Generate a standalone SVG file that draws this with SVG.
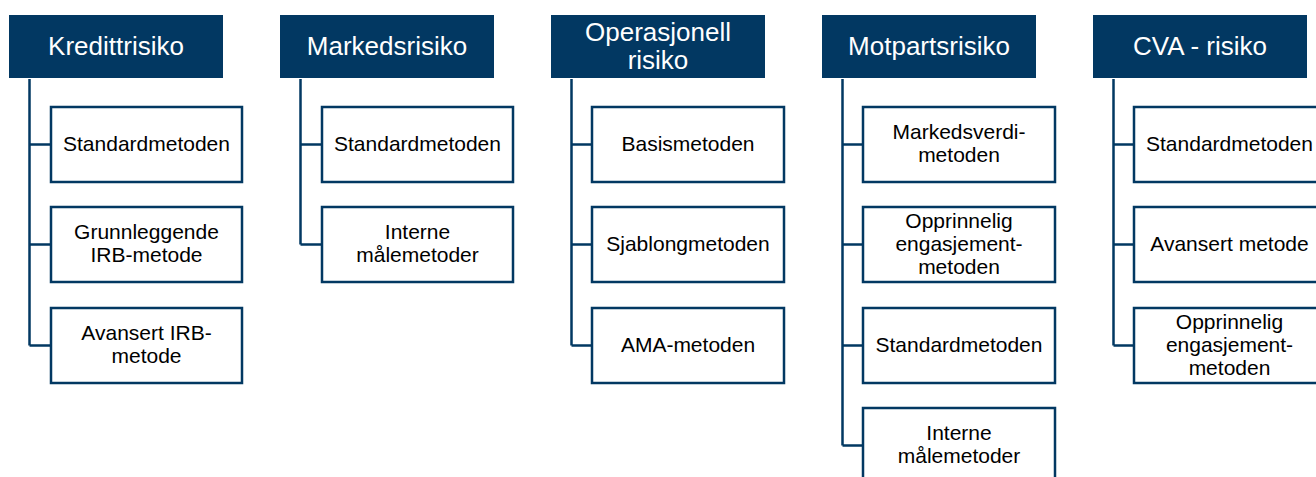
<svg xmlns="http://www.w3.org/2000/svg" width="1316" height="477" viewBox="0 0 1316 477">
<style>
.hd{fill:#023862}
.ht{fill:#ffffff;font-family:"Liberation Sans",Arial,sans-serif;font-size:26px;text-anchor:middle}
.bx{fill:#ffffff;stroke:#023862;stroke-width:2.5}
.bt{fill:#000000;font-family:"Liberation Sans",Arial,sans-serif;font-size:21px;text-anchor:middle}
.cn{fill:none;stroke:#023862;stroke-width:2.5}
</style>
<rect width="1316" height="477" fill="#ffffff"/>
<g id="connectors">
<path class="cn" d="M29.5 79 V345.5 M29.5 144.5 H51 M29.5 244.5 H51 M29.5 345.5 H51"/>
<path class="cn" d="M300.5 79 V244.5 M300.5 144.5 H322 M300.5 244.5 H322"/>
<path class="cn" d="M571.5 79 V345.5 M571.5 144.5 H592 M571.5 244.5 H592 M571.5 345.5 H592"/>
<path class="cn" d="M842.5 79 V445.5 M842.5 144.5 H863 M842.5 244.5 H863 M842.5 345.5 H863 M842.5 445.5 H863"/>
<path class="cn" d="M1113.5 79 V345.5 M1113.5 144.5 H1134 M1113.5 244.5 H1134 M1113.5 345.5 H1134"/>
</g>
<g id="h1"><rect class="hd" x="9" y="15" width="214" height="63"/><text class="ht" x="116" y="55">Kredittrisiko</text></g>
<g id="h2"><rect class="hd" x="280" y="15" width="214" height="63"/><text class="ht" x="387" y="55">Markedsrisiko</text></g>
<g id="h3"><rect class="hd" x="551" y="15" width="214" height="63"/><text class="ht" x="658" y="40.5">Operasjonell</text><text class="ht" x="658" y="68.5">risiko</text></g>
<g id="h4"><rect class="hd" x="822" y="15" width="214" height="63"/><text class="ht" x="929" y="55">Motpartsrisiko</text></g>
<g id="h5"><rect class="hd" x="1093" y="15" width="214" height="63"/><text class="ht" x="1200" y="55">CVA - risiko</text></g>

<g id="c1a"><rect class="bx" x="51" y="107" width="191" height="75"/><text class="bt" x="146.5" y="150.5">Standardmetoden</text></g>
<g id="c1b"><rect class="bx" x="51" y="207" width="191" height="75"/><text class="bt" x="146.5" y="239">Grunnleggende</text><text class="bt" x="146.5" y="262">IRB-metode</text></g>
<g id="c1c"><rect class="bx" x="51" y="308" width="191" height="75"/><text class="bt" x="146.5" y="340">Avansert IRB-</text><text class="bt" x="146.5" y="363">metode</text></g>

<g id="c2a"><rect class="bx" x="322" y="107" width="191" height="75"/><text class="bt" x="417.5" y="150.5">Standardmetoden</text></g>
<g id="c2b"><rect class="bx" x="322" y="207" width="191" height="75"/><text class="bt" x="417.5" y="239">Interne</text><text class="bt" x="417.5" y="262">målemetoder</text></g>

<g id="c3a"><rect class="bx" x="592" y="107" width="192" height="75"/><text class="bt" x="688" y="150.5">Basismetoden</text></g>
<g id="c3b"><rect class="bx" x="592" y="207" width="192" height="75"/><text class="bt" x="688" y="250.5">Sjablongmetoden</text></g>
<g id="c3c"><rect class="bx" x="592" y="308" width="192" height="75"/><text class="bt" x="688" y="351.5">AMA-metoden</text></g>

<g id="c4a"><rect class="bx" x="863" y="107" width="192" height="75"/><text class="bt" x="959" y="139">Markedsverdi-</text><text class="bt" x="959" y="162">metoden</text></g>
<g id="c4b"><rect class="bx" x="863" y="207" width="192" height="75"/><text class="bt" x="959" y="227.5">Opprinnelig</text><text class="bt" x="959" y="250.5">engasjement-</text><text class="bt" x="959" y="273.5">metoden</text></g>
<g id="c4c"><rect class="bx" x="863" y="308" width="192" height="75"/><text class="bt" x="959" y="351.5">Standardmetoden</text></g>
<g id="c4d"><rect class="bx" x="863" y="408" width="192" height="75"/><text class="bt" x="959" y="440">Interne</text><text class="bt" x="959" y="463">målemetoder</text></g>

<g id="c5a"><rect class="bx" x="1134" y="107" width="191" height="75"/><text class="bt" x="1229.5" y="150.5">Standardmetoden</text></g>
<g id="c5b"><rect class="bx" x="1134" y="207" width="191" height="75"/><text class="bt" x="1229.5" y="250.5">Avansert metode</text></g>
<g id="c5c"><rect class="bx" x="1134" y="308" width="191" height="75"/><text class="bt" x="1229.5" y="328.5">Opprinnelig</text><text class="bt" x="1229.5" y="351.5">engasjement-</text><text class="bt" x="1229.5" y="374.5">metoden</text></g>
</svg>
